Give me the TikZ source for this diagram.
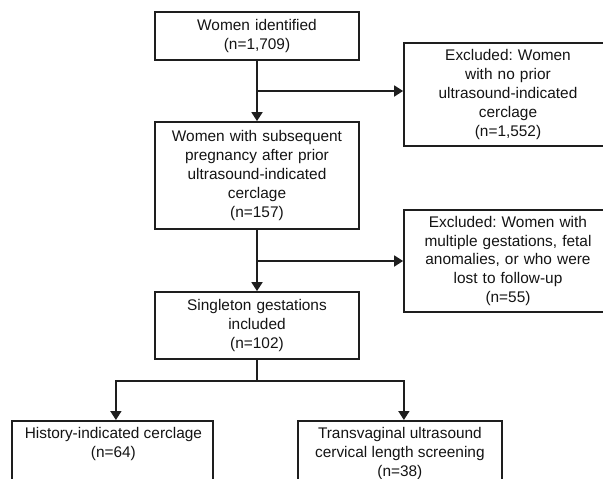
\documentclass[tikz,border=0pt]{standalone}
\usepackage{fontspec}
\setmainfont{Liberation Sans}
\usetikzlibrary{arrows.meta,calc}
\definecolor{linec}{HTML}{1E1E1E}
\newcommand{\flowfont}{\fontsize{15.4pt}{18.8pt}\selectfont}
\frenchspacing
\begin{document}
\begin{tikzpicture}[x=1pt,y=-1pt,
  box/.style={draw=linec, line width=1.8pt, inner sep=0pt, align=center,
    font=\flowfont, text=black!92, text width=#1},
  box/.default=190pt,
  ln/.style={draw=linec, line width=1.8pt},
  arr/.style={ln, -{Triangle[width=11pt,length=9pt]}},
  lbl/.style={inner sep=0pt, align=center, font=\flowfont, text=black!92}]
\useasboundingbox (0,0) rectangle (603,479);
\clip (0,0) rectangle (603,479);
\fill[white] (0,0) rectangle (603,479);

\node[box, minimum width=204pt, minimum height=48pt] (b1) at (257,36)
  {Women identified\\(n=1,709)};
\node[box=200pt, minimum width=208pt, minimum height=103pt] (e1) at (508,94.5)
  {Excluded: Women\\with no prior\\ultrasound-indicated\\cerclage\\(n=1,552)};
\node[box, minimum width=204pt, minimum height=107pt] (b2) at (257,175.5)
  {Women with subsequent\\pregnancy after prior\\ultrasound-indicated\\cerclage\\(n=157)};
\node[box=200pt, minimum width=208pt, minimum height=102pt] (e2) at (508,261)
  {Excluded: Women with\\multiple gestations, fetal\\anomalies, or who were\\lost to follow-up\\(n=55)};
\node[box, minimum width=204pt, minimum height=67pt] (b3) at (257,325.5)
  {Singleton gestations\\included\\(n=102)};

\node[draw=linec, line width=1.8pt, inner sep=0pt, anchor=north west,
  minimum width=201pt, minimum height=90pt] (hist) at (11,420) {};
\node[lbl, anchor=north] (histt) at ($(hist.north)+(1,7.5)$)
  {History-indicated cerclage\\(n=64)};
\node[draw=linec, line width=1.8pt, inner sep=0pt, anchor=north west,
  minimum width=204pt, minimum height=90pt] (tv) at (297,420) {};
\node[lbl, anchor=north] (tvt) at ($(tv.north)+(0,7.5)$)
  {Transvaginal ultrasound\\cervical length screening\\(n=38)};

\draw[arr] (b1.south) -- (b2.north);
\coordinate (j1) at ($(b1.south)!0.5!(b2.north)$);
\draw[arr] (j1) -- (j1 -| e1.west);
\draw[arr] (b2.south) -- (b3.north);
\coordinate (j2) at ($($(b2.south)!0.5!(b3.north)$)+(0,0.5)$);
\draw[arr] (j2) -- (j2 -| e2.west);
\coordinate (j3) at ($(b3.south)+(0,21)$);
\draw[ln] (b3.south) -- (j3);
\draw[arr] (j3) -| ([xshift=3.5pt]hist.north);
\draw[arr] (j3) -| ([xshift=4pt]tv.north);
\end{tikzpicture}
\end{document}
